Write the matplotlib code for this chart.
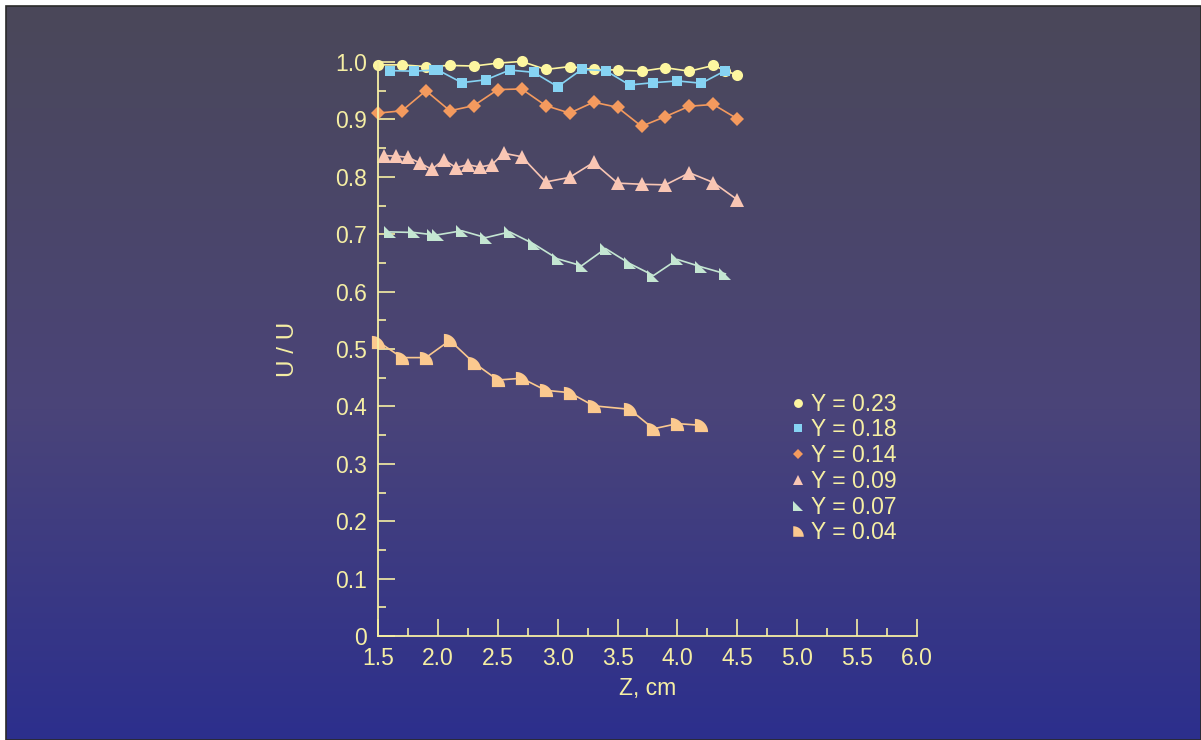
#!/usr/bin/env python3
"""Velocity profiles U/U vs Z for several Y positions."""

import numpy as np
import matplotlib
matplotlib.use("Agg")
import matplotlib.pyplot as plt
from matplotlib.path import Path
from matplotlib.patches import Rectangle
from matplotlib.colors import LinearSegmentedColormap
from matplotlib.ticker import MultipleLocator, FixedFormatter, FixedLocator

plt.rcParams["font.family"] = ["Liberation Sans", "DejaVu Sans"]

TXT = "#f6efa4"

# ---- data ----
z_023 = [1.5, 1.7, 1.9, 2.1, 2.3, 2.5, 2.7, 2.9, 3.1, 3.3, 3.5, 3.7, 3.9, 4.1, 4.3, 4.4, 4.5]
u_023 = [0.995, 0.995, 0.992, 0.994, 0.993, 0.998, 1.001, 0.987, 0.992, 0.987, 0.986,
         0.984, 0.990, 0.984, 0.994, 0.985, 0.977]

z_018 = [1.6, 1.8, 1.97, 2.0, 2.2, 2.4, 2.6, 2.8, 3.0, 3.2, 3.4, 3.6, 3.8, 4.0, 4.2, 4.4]
u_018 = [0.985, 0.984, 0.986, 0.986, 0.964, 0.969, 0.986, 0.982, 0.957, 0.987, 0.985,
         0.960, 0.964, 0.967, 0.963, 0.985]

z_014 = [1.5, 1.7, 1.9, 2.1, 2.3, 2.5, 2.7, 2.9, 3.1, 3.3, 3.5, 3.7, 3.9, 4.1, 4.3, 4.5]
u_014 = [0.911, 0.915, 0.950, 0.915, 0.924, 0.952, 0.953, 0.924, 0.911, 0.930, 0.921,
         0.888, 0.905, 0.923, 0.926, 0.901]

z_009 = [1.55, 1.65, 1.75, 1.85, 1.95, 2.05, 2.15, 2.25, 2.35, 2.45, 2.55, 2.7, 2.9,
         3.1, 3.3, 3.5, 3.7, 3.9, 4.1, 4.3, 4.5]
u_009 = [0.837, 0.836, 0.834, 0.824, 0.813, 0.830, 0.816, 0.821, 0.817, 0.821, 0.841,
         0.835, 0.791, 0.799, 0.825, 0.789, 0.787, 0.786, 0.807, 0.790, 0.760]

z_007 = [1.6, 1.8, 1.96, 2.0, 2.2, 2.4, 2.6, 2.8, 3.0, 3.2, 3.4, 3.6, 3.8, 4.0, 4.2, 4.4]
u_007 = [0.704, 0.703, 0.699, 0.699, 0.706, 0.694, 0.704, 0.683, 0.657, 0.645, 0.675,
         0.649, 0.628, 0.656, 0.643, 0.631]

z_004 = [1.5, 1.7, 1.9, 2.1, 2.3, 2.5, 2.7, 2.9, 3.1, 3.3, 3.6, 3.8, 4.0, 4.2]
u_004 = [0.513, 0.485, 0.485, 0.515, 0.476, 0.446, 0.449, 0.428, 0.424, 0.401, 0.395,
         0.361, 0.370, 0.367]

labels = ["Y = 0.23", "Y = 0.18", "Y = 0.14", "Y = 0.09", "Y = 0.07", "Y = 0.04"]
x_ticks = [1.5, 2.0, 2.5, 3.0, 3.5, 4.0, 4.5, 5.0, 5.5, 6.0]
y_ticks = [0, 0.1, 0.2, 0.3, 0.4, 0.5, 0.6, 0.7, 0.8, 0.9, 1.0]

# custom markers: right triangle and quarter pie
right_tri = Path([(-1, 1), (-1, -1), (1, -1), (-1, 1)],
                 [Path.MOVETO, Path.LINETO, Path.LINETO, Path.CLOSEPOLY])
th = np.linspace(np.pi / 2, 0, 20)
qv = [(-1, -1), (-1, 1)] + [(-1 + 2 * np.cos(t), -1 + 2 * np.sin(t)) for t in th] + [(-1, -1)]
quarter = Path(qv, [Path.MOVETO] + [Path.LINETO] * (len(qv) - 2) + [Path.CLOSEPOLY])

series = [
    (z_023, u_023, "#fdf6a0", "o", 8),
    (z_018, u_018, "#86d3f3", "s", 7),
    (z_014, u_014, "#f49a5e", "D", 7),
    (z_009, u_009, "#f9c6b4", "^", 9.5),
    (z_007, u_007, "#c4e6d2", right_tri, 9),
    (z_004, u_004, "#fbc98f", quarter, 9.5),
]

fig = plt.figure(figsize=(12.01, 7.40), dpi=100, facecolor="white")

# gradient background panel
bg = fig.add_axes([6 / 1201, 0, 1195 / 1201, 734 / 740])
cmap = LinearSegmentedColormap.from_list(
    "bg", [(0, "#2c2f8d"), (0.45, "#4a4479"), (1, "#4b4859")])
bg.imshow(np.linspace(0, 1, 256).reshape(-1, 1), aspect="auto", cmap=cmap,
          origin="lower", extent=(0, 1, 0, 1))
bg.set_axis_off()
fig.patches.append(Rectangle((6 / 1201, 0), 1195 / 1201, 734 / 740, transform=fig.transFigure,
                             fill=False, edgecolor="#2a2a2a", linewidth=1.2))

ax = fig.add_axes([378 / 1201, 1 - 636 / 740, 539 / 1201, 574 / 740])
ax.patch.set_alpha(0)

for (z, u, c, m, ms), lab in zip(series, labels):
    ax.plot(z, u, color=c, lw=1.2, marker=m, ms=ms, mec=c, mew=0, label=lab, clip_on=False)

ax.set_xlim(1.5, 6.0)
ax.set_ylim(0, 1.0)
ax.xaxis.set_major_locator(FixedLocator(x_ticks))
ax.xaxis.set_major_formatter(FixedFormatter([f"{v:.1f}" for v in x_ticks]))
ax.xaxis.set_minor_locator(MultipleLocator(0.25))
ax.yaxis.set_major_locator(FixedLocator(y_ticks))
ax.yaxis.set_major_formatter(FixedFormatter(["0"] + [f"{v:.1f}" for v in y_ticks[1:]]))
ax.yaxis.set_minor_locator(MultipleLocator(0.05))
for s in ("top", "right"):
    ax.spines[s].set_visible(False)
for s in ("left", "bottom"):
    ax.spines[s].set_color(TXT)
    ax.spines[s].set_linewidth(1.3)
ax.tick_params(which="both", direction="in", colors=TXT, labelcolor=TXT, labelsize=16.5, width=1.2)
ax.tick_params(which="major", length=12, pad=8)
ax.tick_params(which="minor", length=6)

ax.set_xlabel("Z, cm", color=TXT, fontsize=16.5, labelpad=5)
ax.set_ylabel("U / U", color=TXT, fontsize=17.5, labelpad=26)

leg = ax.legend(loc="upper left", bbox_to_anchor=(770 / 1201, 1 - 372 / 740),
                bbox_transform=fig.transFigure, frameon=False, fontsize=16.5,
                handlelength=0.6, handletextpad=0.3, labelspacing=0.12, markerscale=0.8)
for t in leg.get_texts():
    t.set_color(TXT)
for h in leg.get_lines():
    h.set_linestyle("none")

fig.savefig("out.png", dpi=100, facecolor=fig.get_facecolor())
